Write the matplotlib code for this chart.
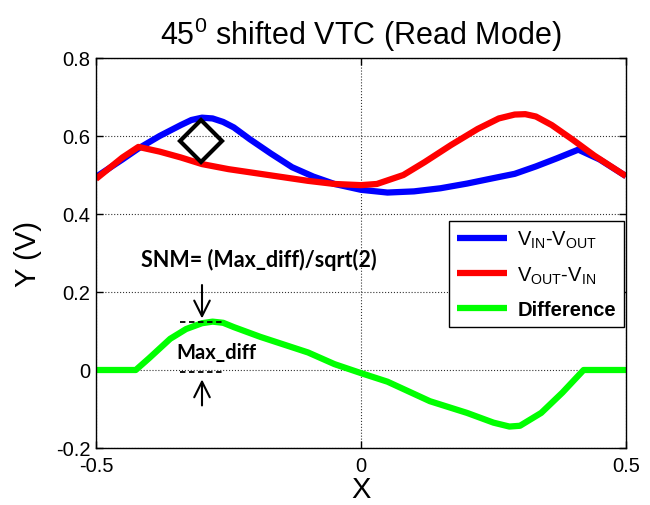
import matplotlib
matplotlib.use("Agg")
import matplotlib.pyplot as plt

plt.rcParams['font.family'] = ['Liberation Sans', 'DejaVu Sans']
plt.rcParams['mathtext.fontset'] = 'custom'
plt.rcParams['mathtext.rm'] = 'Liberation Sans'

# ---- data ----
x_blue = [-0.5, -0.45, -0.42, -0.38, -0.34, -0.32, -0.3, -0.28, -0.26, -0.24, -0.21, -0.17, -0.13,
          -0.09, -0.05, 0.0, 0.05, 0.1, 0.15, 0.2, 0.25, 0.29, 0.33, 0.37, 0.41, 0.45, 0.5]
y_blue = [0.495, 0.54, 0.568, 0.6, 0.628, 0.641, 0.647, 0.645, 0.636, 0.622, 0.592, 0.555, 0.52,
          0.496, 0.477, 0.462, 0.455, 0.458, 0.466, 0.478, 0.492, 0.503, 0.522, 0.543, 0.565, 0.54, 0.497]

x_red = [-0.5, -0.45, -0.42, -0.38, -0.34, -0.3, -0.25, -0.2, -0.15, -0.1, -0.05, 0.0, 0.03,
         0.08, 0.12, 0.17, 0.22, 0.26, 0.29, 0.31, 0.33, 0.36, 0.4, 0.44, 0.5]
y_red = [0.49, 0.545, 0.572, 0.56, 0.545, 0.528, 0.515, 0.505, 0.495, 0.485, 0.477, 0.474, 0.477,
         0.5, 0.533, 0.577, 0.618, 0.645, 0.655, 0.656, 0.65, 0.628, 0.59, 0.55, 0.497]

x_diff = [-0.5, -0.425, -0.4, -0.36, -0.33, -0.3, -0.28, -0.26, -0.24, -0.19, -0.1, -0.05, 0.0,
          0.05, 0.13, 0.2, 0.25, 0.28, 0.3, 0.34, 0.38, 0.42, 0.5]
y_diff = [0.0, 0.0, 0.03, 0.08, 0.105, 0.12, 0.124, 0.121, 0.11, 0.085, 0.045, 0.015, -0.008,
          -0.03, -0.08, -0.11, -0.135, -0.145, -0.143, -0.11, -0.058, 0.0, 0.0]

legend_labels = [r'V$_{\mathrm{IN}}$-V$_{\mathrm{OUT}}$', r'V$_{\mathrm{OUT}}$-V$_{\mathrm{IN}}$', 'Difference']
x_ticks = [-0.5, 0, 0.5]
x_ticklabels = ['-0.5', '0', '0.5']
y_ticks = [-0.2, 0, 0.2, 0.4, 0.6, 0.8]
y_ticklabels = ['-0.2', '0', '0.2', '0.4', '0.6', '0.8']

diamond_xy = (-0.302, 0.587)
max_diff_top = 0.123
max_diff_bottom = -0.005
max_diff_x = -0.30

fig = plt.figure(figsize=(6.5, 5.06), dpi=100)
ax = fig.add_axes([96 / 650, 1 - 449 / 506, 530 / 650, 390 / 506])

l1, = ax.plot(x_blue, y_blue, color='#0000ff', lw=4.5, solid_capstyle='butt')
l2, = ax.plot(x_red, y_red, color='#ff0000', lw=4.5, solid_capstyle='butt')
l3, = ax.plot(x_diff, y_diff, color='#00ff00', lw=4.5, solid_capstyle='butt')

ax.plot([diamond_xy[0]], [diamond_xy[1]], marker='D', markersize=21, markerfacecolor='none',
        markeredgecolor='black', markeredgewidth=3)

# dashed guide lines
ax.plot([-0.342, -0.257], [max_diff_top, max_diff_top], color='black', lw=1.3, ls=(0, (3, 2)))
ax.plot([-0.342, -0.257], [max_diff_bottom, max_diff_bottom], color='black', lw=1.3, ls=(0, (3, 2)))

# arrows
ax.annotate('', xy=(max_diff_x, max_diff_top + 0.002), xytext=(max_diff_x, 0.225),
            arrowprops=dict(arrowstyle='->', lw=1.5, color='black', mutation_scale=28))
ax.annotate('', xy=(max_diff_x, max_diff_bottom - 0.012), xytext=(max_diff_x, -0.098),
            arrowprops=dict(arrowstyle='->', lw=1.5, color='black', mutation_scale=28))

ax.text(-0.272, 0.045, 'Max_diff', fontsize=14.5, fontweight='bold', family=['Lato', 'DejaVu Sans'],
        ha='center', va='center')
ax.text(-0.415, 0.285, 'SNM= (Max_diff)/sqrt(2)', fontsize=15.5, fontweight='bold',
        family=['Lato', 'DejaVu Sans'], ha='left', va='center')

ax.set_xlim(-0.5, 0.5)
ax.set_ylim(-0.2, 0.8)
ax.set_xticks(x_ticks)
ax.set_xticklabels(x_ticklabels)
ax.set_yticks(y_ticks)
ax.set_yticklabels(y_ticklabels)
ax.tick_params(direction='in', top=True, right=True, labelsize=14.5, length=5, width=1)
ax.tick_params(axis='x', pad=6)
ax.tick_params(axis='y', pad=4)
ax.grid(True, ls=':', color='black', lw=0.8, alpha=0.8)
for s in ax.spines.values():
    s.set_linewidth(1.0)

ax.set_xlabel('X', fontsize=21, labelpad=0)
ax.set_ylabel('Y (V)', fontsize=21, labelpad=10)
ax.set_title(r'45$^{\mathrm{0}}$ shifted VTC (Read Mode)', fontsize=22, pad=10)

leg = ax.legend([l1, l2, l3], legend_labels, loc='upper right', bbox_to_anchor=(0.996, 0.582),
                fontsize=14.5, frameon=True, fancybox=False, edgecolor='black', framealpha=1,
                handlelength=2.5, handletextpad=0.5, labelspacing=0.7, borderpad=0.4,
                borderaxespad=0)
leg.get_frame().set_linewidth(1.0)
for t in leg.get_texts():
    if t.get_text() == 'Difference':
        t.set_fontweight('bold')

fig.savefig('out.png', dpi=100)
